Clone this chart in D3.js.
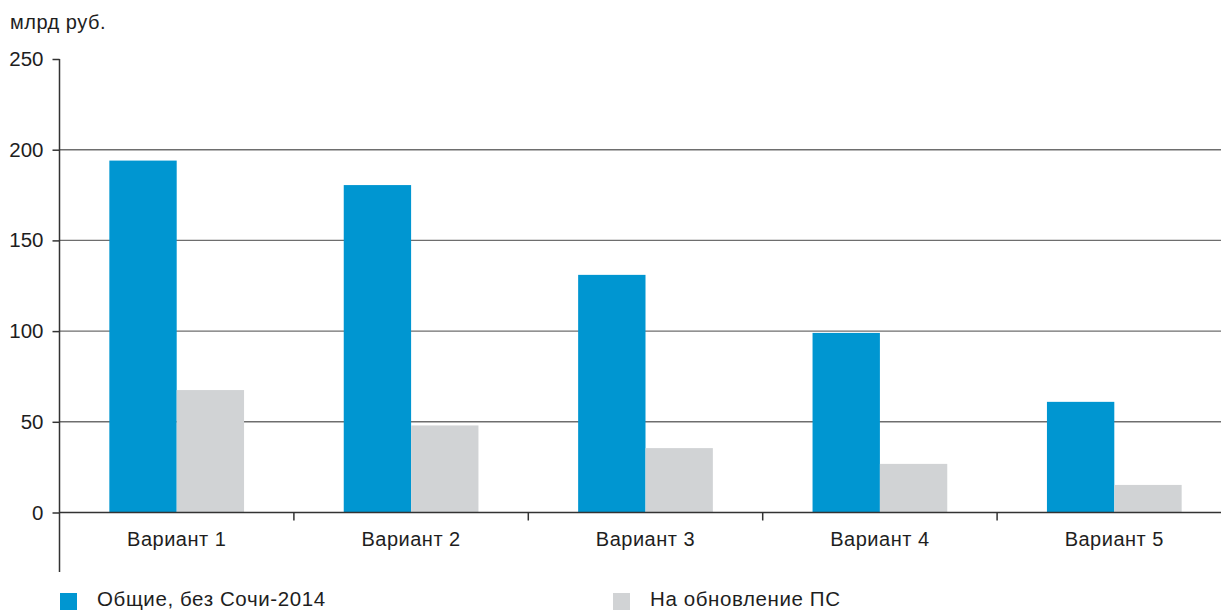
<!DOCTYPE html>
<html>
<head>
<meta charset="utf-8">
<script src="https://cdn.jsdelivr.net/npm/d3@7"></script>
<style>
  html, body { margin: 0; padding: 0; background: #fff; }
  svg { display: block; font-family: "Liberation Sans", Arial, Helvetica, sans-serif; }
</style>
</head>
<body>
<svg id="chart" width="1221" height="610"></svg>
<script>
// Investment volumes by scenario, bn rubles
const categories = ["Вариант 1", "Вариант 2", "Вариант 3", "Вариант 4", "Вариант 5"];
const seriesNames = ["Общие, без Сочи-2014", "На обновление ПС"];
const totalNoSochi = [194, 180.5, 131, 99, 61];
const rollingStock = [67.5, 48, 35.5, 26.8, 15.2];
const yTicks = [0, 50, 100, 150, 200, 250];
const unitLabel = "млрд руб.";

const colors = ["#0096d1", "#d1d3d5"];
const textColor = "#1e1e1e";
const fontSize = 20;

const svg = d3.select("#chart");
const W = 1221;
const plotLeft = 59.5, plotTop = 59, plotBottom = 512.5, plotRight = 1231.5;

const x = d3.scaleBand().domain(categories).range([plotLeft, plotRight]).paddingInner(0).paddingOuter(0);
const x1 = d3.scaleBand().domain(seriesNames).range([0, x.bandwidth()]).paddingInner(0).paddingOuter(0.74);
const y = d3.scaleLinear().domain([0, 250]).range([plotBottom, plotTop]);

// Horizontal gridlines
svg.append("g")
  .selectAll("line")
  .data(yTicks.filter(d => d > 0 && d < 250))
  .join("line")
  .attr("x1", plotLeft).attr("x2", W)
  .attr("y1", d => y(d)).attr("y2", d => y(d))
  .attr("stroke", "#6e6e6e").attr("stroke-width", 1.4);

// Bars
const rows = categories.map((c, i) => ({ c, vals: [totalNoSochi[i], rollingStock[i]] }));
const groups = svg.append("g").selectAll("g").data(rows).join("g")
  .attr("transform", d => `translate(${x(d.c)},0)`);
groups.selectAll("rect")
  .data(d => d.vals.map((v, k) => ({ v, k })))
  .join("rect")
  .attr("x", d => x1(seriesNames[d.k]))
  .attr("width", x1.bandwidth())
  .attr("y", d => y(d.v))
  .attr("height", d => y(0) - y(d.v))
  .attr("fill", d => colors[d.k]);

// Baseline with category separator ticks
svg.append("line")
  .attr("x1", plotLeft).attr("x2", W)
  .attr("y1", y(0)).attr("y2", y(0))
  .attr("stroke", "#333").attr("stroke-width", 1.5);
svg.append("g").selectAll("line")
  .data(categories.slice(1))
  .join("line")
  .attr("x1", d => x(d)).attr("x2", d => x(d))
  .attr("y1", y(0)).attr("y2", y(0) + 8)
  .attr("stroke", "#333").attr("stroke-width", 1.5);

// Category labels
svg.append("g").selectAll("text")
  .data(categories)
  .join("text")
  .attr("x", d => x(d) + x.bandwidth() / 2)
  .attr("y", 546)
  .attr("text-anchor", "middle")
  .attr("font-size", fontSize)
  .attr("letter-spacing", 0.5)
  .attr("fill", textColor)
  .text(d => d);

// Y axis
const yAxis = d3.axisLeft(y).tickValues(yTicks).tickSize(7).tickPadding(9);
const ga = svg.append("g").attr("transform", `translate(${plotLeft},0)`).call(yAxis);
ga.select(".domain").remove();
ga.selectAll(".tick line").attr("stroke", "#333").attr("stroke-width", 1.5);
ga.selectAll(".tick text").attr("font-size", fontSize + 0.5).attr("fill", textColor)
  .attr("font-family", "Liberation Sans, Arial, sans-serif");
svg.append("line")
  .attr("x1", plotLeft).attr("x2", plotLeft)
  .attr("y1", plotTop).attr("y2", 572)
  .attr("stroke", "#333").attr("stroke-width", 1.5);

// Unit label
svg.append("text")
  .attr("x", 10).attr("y", 29)
  .attr("font-size", fontSize)
  .attr("letter-spacing", 0.5)
  .attr("fill", textColor)
  .text(unitLabel);

// Legend
const legendX = [60, 613];
const lg = svg.append("g").selectAll("g").data(seriesNames).join("g")
  .attr("transform", (d, i) => `translate(${legendX[i]},593)`);
lg.append("rect").attr("width", 17).attr("height", 17).attr("fill", (d, i) => colors[i]);
lg.append("text").attr("x", 37).attr("y", 13)
  .attr("font-size", fontSize + 0.5)
  .attr("letter-spacing", 0.6)
  .attr("fill", textColor).text(d => d);
</script>
</body>
</html>
